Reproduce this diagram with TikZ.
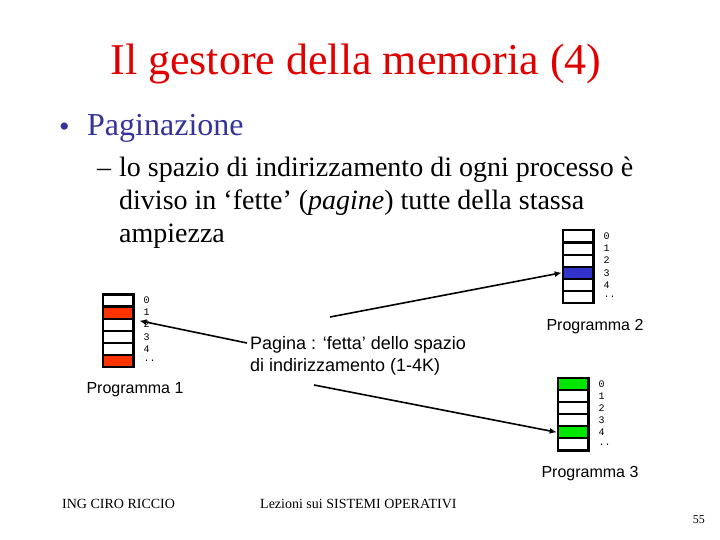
\documentclass[tikz,border=0pt]{standalone}
\usepackage{fontspec}
\setmainfont{Liberation Serif}
\setsansfont{Liberation Sans}
\setmonofont{Liberation Mono}
\usetikzlibrary{arrows.meta,positioning}
\definecolor{titlered}{RGB}{225,0,0}
\definecolor{itemblue}{RGB}{51,51,153}
\definecolor{pagered}{RGB}{255,51,0}
\definecolor{pageblue}{RGB}{51,51,204}
\definecolor{pagegreen}{RGB}{0,230,0}
\tikzset{
  slidetitle/.style={font=\fontsize{44}{52}\selectfont, text=titlered, inner sep=0pt, anchor=base},
  lvlone/.style={font=\fontsize{32}{38}\selectfont, text=itemblue, inner sep=0pt, anchor=base west},
  lvltwo/.style={font=\fontsize{28}{34}\selectfont, inner sep=0pt, anchor=base west},
  pagecell/.style={rectangle, draw=black, line width=2.2pt, minimum width=30.6pt,
                   minimum height=12.1pt, inner sep=0pt, anchor=north west},
  pageidx/.style={font=\ttfamily\fontsize{10}{10}\selectfont, anchor=west, inner sep=0pt, xshift=9pt},
  proglabel/.style={font=\sffamily\fontsize{16}{19}\selectfont, inner sep=0pt},
  notelabel/.style={font=\sffamily\fontsize{18}{22}\selectfont, inner sep=0pt, anchor=base west},
  footer/.style={font=\fontsize{14}{16}\selectfont, inner sep=0pt, anchor=base west},
  pageptr/.style={-{Latex[length=7pt,width=6pt]}, line width=1.6pt},
}
\begin{document}
\begin{tikzpicture}[x=1pt, y=-1pt,
    cell1-1/.style={fill=pagered},
    cell1-5/.style={fill=pagered},
    cell2-3/.style={fill=pageblue},
    cell3-0/.style={fill=pagegreen},
    cell3-4/.style={fill=pagegreen}]
  \useasboundingbox (0,0) rectangle (720,540);
  \fill[white] (0,0) rectangle (720,540);

  \node[slidetitle] (title) at (356,75) {Il gestore della memoria (4)};
  \node[lvlone, font=\fontsize{30}{36}\selectfont] (bullet) at (59,137) {\textbullet};
  \node[lvlone] (pag) at (87,136) {Paginazione};
  \node[lvltwo] (dash) at (97,177) {–};
  \node[lvltwo] (line1) at (119,177) {lo spazio di indirizzamento di ogni processo è};
  \node[lvltwo] (line2) at (119,210) {diviso in ‘fette’ (\textit{pagine}) tutte della stassa};
  \node[lvltwo] (line3) at (119,243) {ampiezza};

  \foreach \p/\x/\y in {1/101.7/293.3, 2/561.7/229.3, 3/556.7/376.7} {
    \foreach \i/\t in {0/0,1/1,2/2,3/3,4/4,5/..} {
      \node[pagecell, cell\p-\i/.try] (p\p-\i) at (\x,\y+12.1*\i) {};
      \node[pageidx] (l\p-\i) at (p\p-\i.east) {\t};
    }
  }

  \node[proglabel] (prog1) at (135,390) {Programma 1};
  \node[proglabel] (prog2) at (595,327) {Programma 2};
  \node[proglabel] (prog3) at (590,474) {Programma 3};

  \node[notelabel] (note1) at (250,349.5) {Pagina : ‘fetta’ dello spazio};
  \node[notelabel] (note2) at (250,371.5) {di indirizzamento (1-4K)};

  \coordinate (t1) at (247,343);
  \coordinate (t2) at (330,317);
  \coordinate (t3) at (314,385);
  \draw[pageptr, shorten >=5pt] (t1) -- (p1-1.south east);
  \draw[pageptr] (t2) -- (p2-3.west);
  \draw[pageptr] (t3) -- (p3-4.west);

  \node[footer] (author) at (62,508.6) {ING CIRO RICCIO};
  \node[footer] (course) at (260,508.6) {Lezioni sui SISTEMI OPERATIVI};
  \node[footer, font=\fontsize{12}{14}\selectfont, anchor=base east] (pagenum) at (705,523) {55};
\end{tikzpicture}
\end{document}
